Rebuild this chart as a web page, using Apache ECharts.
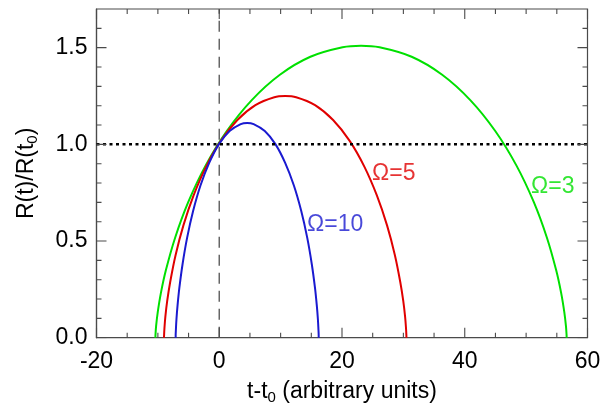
<!DOCTYPE html>
<html><head><meta charset="utf-8">
<script src="https://cdn.jsdelivr.net/npm/echarts@6/dist/echarts.min.js"></script>
<style>html,body{margin:0;padding:0;background:#fff}#c{width:604px;height:407px}</style>
</head><body><div id="c"></div>
<script>
// Tick values
const xTicks = [-20, 0, 20, 40, 60];
const xMinorTicks = [-15, -10, -5, 5, 10, 15, 25, 30, 35, 45, 50, 55];
const yTicks = [0.0, 0.5, 1.0, 1.5];
const yMinorTicks = [0.1, 0.2, 0.3, 0.4, 0.6, 0.7, 0.8, 0.9, 1.1, 1.2, 1.3, 1.4, 1.6];

// Omega = 3 (green)
const omega3T = [-10.4, -10.39, -10.29, -10.02, -9.52, -8.71, -7.19, -5.04, -2.23, 1.23, 5.30, 9.88, 14.85, 20.09, 23.1, 26.11, 31.35, 36.32, 40.90, 44.97, 48.43, 51.24, 53.39, 54.91, 55.72, 56.22, 56.49, 56.59, 56.6];
const omega3R = [0, 0.015, 0.060, 0.132, 0.229, 0.347, 0.517, 0.702, 0.890, 1.069, 1.229, 1.360, 1.453, 1.502, 1.51, 1.502, 1.453, 1.360, 1.229, 1.069, 0.890, 0.702, 0.517, 0.347, 0.229, 0.132, 0.060, 0.015, 0];

// Omega = 5 (red)
const omega5T = [-9.0, -8.99, -8.93, -8.78, -8.48, -8.00, -7.11, -5.84, -4.18, -2.14, 0.25, 2.95, 5.89, 8.97, 10.75, 12.53, 15.61, 18.55, 21.25, 23.64, 25.68, 27.34, 28.61, 29.50, 29.98, 30.28, 30.43, 30.49, 30.5];
const omega5R = [0, 0.012, 0.049, 0.109, 0.190, 0.287, 0.428, 0.581, 0.736, 0.885, 1.018, 1.126, 1.203, 1.244, 1.25, 1.244, 1.203, 1.126, 1.018, 0.885, 0.736, 0.581, 0.428, 0.287, 0.190, 0.109, 0.049, 0.012, 0];

// Omega = 10 (blue)
const omega10T = [-7.1, -7.10, -7.06, -6.97, -6.79, -6.51, -5.98, -5.24, -4.26, -3.06, -1.64, -0.05, 1.68, 3.50, 4.55, 5.60, 7.42, 9.15, 10.74, 12.16, 13.36, 14.34, 15.08, 15.61, 15.89, 16.07, 16.16, 16.20, 16.2];
const omega10R = [0, 0.011, 0.044, 0.097, 0.168, 0.255, 0.380, 0.516, 0.655, 0.787, 0.904, 1.001, 1.069, 1.105, 1.111, 1.105, 1.069, 1.001, 0.904, 0.787, 0.655, 0.516, 0.380, 0.255, 0.168, 0.097, 0.044, 0.011, 0];

// Reference lines
const refHorizontalR = 1.0;
const refVerticalT = 0;

// Curve labels
const labelNames = ['Ω=3', 'Ω=5', 'Ω=10'];
const labelT = [50.8, 24.9, 14.3];
const labelR = [0.783, 0.846, 0.585];

const X_MIN = -20, X_MAX = 60, Y_MIN = 0, Y_MAX = 1.7;
const FONT = '"Liberation Sans", Arial, Helvetica, sans-serif';
const AX = '#4a4a4a';
const colGreen = '#00e000', colRed = '#e00000', colBlue = '#1a1ad0';

const W = 604, H = 407;
const G = {left: 96.5, right: 16.5, top: 9, bottom: 69.3};
// tick lengths (10 px major, 5 px minor) expressed in axis units
const xPerPx = (X_MAX - X_MIN) / (W - G.left - G.right);
const yPerPx = (Y_MAX - Y_MIN) / (H - G.top - G.bottom);

function zip(a, b) { return a.map((v, i) => [v, b[i]]); }

const tickSeries = [];
function tickSeg(p1, p2) {
  tickSeries.push({type: 'line', silent: true, symbol: 'none', z: 10, data: [p1, p2],
    lineStyle: {color: AX, width: 1.1}});
}
xTicks.map(v => [v, 10]).concat(xMinorTicks.map(v => [v, 5])).forEach(([v, len]) => {
  tickSeg([v, Y_MIN], [v, Y_MIN + len * yPerPx]);
  tickSeg([v, Y_MAX], [v, Y_MAX - len * yPerPx]);
});
yTicks.map(v => [v, 10]).concat(yMinorTicks.map(v => [v, 5])).forEach(([v, len]) => {
  tickSeg([X_MIN, v], [X_MIN + len * xPerPx, v]);
  tickSeg([X_MAX, v], [X_MAX - len * xPerPx, v]);
});

const chart = echarts.init(document.getElementById('c'), null, {renderer: 'canvas'});
chart.setOption({
  animation: false,
  backgroundColor: '#fff',
  grid: {left: G.left, right: G.right, top: G.top, bottom: G.bottom, containLabel: false, outerBoundsMode: 'none',
    show: true, borderColor: AX, borderWidth: 1.2, backgroundColor: 'transparent'},
  xAxis: {
    type: 'value', min: X_MIN, max: X_MAX, interval: xTicks[1] - xTicks[0], position: 'bottom',
    splitLine: {show: false}, minorSplitLine: {show: false},
    axisLine: {show: true, onZero: false, lineStyle: {color: AX, width: 1.2}},
    axisTick: {show: false}, minorTick: {show: false},
    axisLabel: {show: true, fontSize: 23, margin: 12, color: '#000', fontFamily: FONT},
    name: 't-t{s|0} (arbitrary units)', nameLocation: 'middle', nameGap: 37,
    nameTextStyle: {fontSize: 23, color: '#000', fontFamily: FONT, lineHeight: 28,
      rich: {s: {fontSize: 15, fontFamily: FONT, color: '#000', verticalAlign: 'bottom', lineHeight: 16}}}
  },
  yAxis: {
    type: 'value', min: Y_MIN, max: Y_MAX, interval: yTicks[1] - yTicks[0], position: 'left',
    splitLine: {show: false}, minorSplitLine: {show: false},
    axisLine: {show: true, onZero: false, lineStyle: {color: AX, width: 1.2}},
    axisTick: {show: false}, minorTick: {show: false},
    axisLabel: {show: true, fontSize: 23, margin: 9, color: '#000', fontFamily: FONT, showMaxLabel: false,
      formatter: v => v.toFixed(1)},
    name: 'R(t)/R(t{s|0})', nameLocation: 'middle', nameRotate: 90, nameGap: 56,
    nameTextStyle: {fontSize: 23, color: '#000', fontFamily: FONT, lineHeight: 28,
      rich: {s: {fontSize: 15, fontFamily: FONT, color: '#000', verticalAlign: 'bottom', lineHeight: 16}}}
  },
  series: tickSeries.concat([
    {type: 'line', silent: true, symbol: 'none', data: [[refVerticalT, Y_MIN], [refVerticalT, Y_MAX]],
     lineStyle: {color: '#666', width: 1.5, type: [11, 7]}, z: 1},
    {type: 'line', silent: true, symbol: 'none', data: zip(omega3T, omega3R), smooth: 0.35,
     lineStyle: {color: colGreen, width: 2}, z: 2},
    {type: 'line', silent: true, symbol: 'none', data: zip(omega5T, omega5R), smooth: 0.35,
     lineStyle: {color: colRed, width: 2}, z: 3},
    {type: 'line', silent: true, symbol: 'none', data: zip(omega10T, omega10R), smooth: 0.35,
     lineStyle: {color: colBlue, width: 2}, z: 4},
    {type: 'line', silent: true, symbol: 'none', data: [[X_MIN, refHorizontalR], [X_MAX, refHorizontalR]],
     lineStyle: {color: '#000', width: 2.5, type: [3, 3.5]}, z: 5},
    {type: 'scatter', silent: true, symbolSize: 0, z: 6,
     data: labelNames.map((n, i) => ({value: [labelT[i], labelR[i]], name: n,
       label: {color: [colGreen, colRed, colBlue][i]}})),
     label: {show: true, position: 'right', distance: 0, fontSize: 23, fontFamily: FONT,
       formatter: p => p.name}}
  ])
});
</script></body></html>
